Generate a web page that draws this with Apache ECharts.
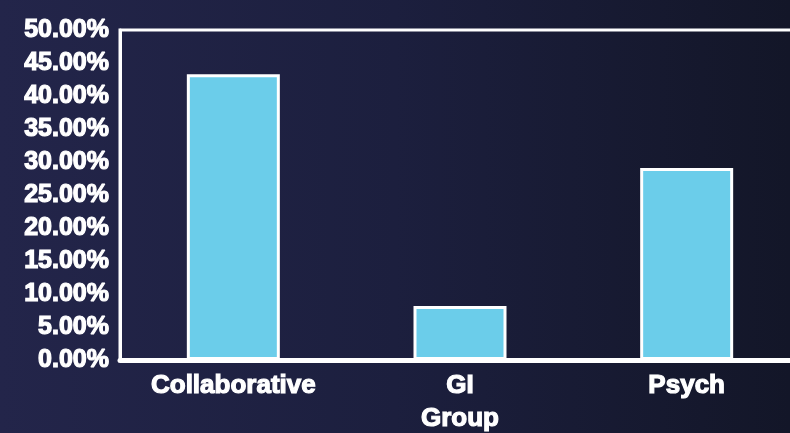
<!DOCTYPE html>
<html>
<head>
<meta charset="utf-8">
<script src="https://cdn.jsdelivr.net/npm/echarts@6/dist/echarts.min.js"></script>
<style>
  html, body { margin: 0; padding: 0; }
  body { background: linear-gradient(90deg, #23254a 0%, #1c1f3e 50%, #131628 100%); }
  #chart { width: 790px; height: 433px; }
</style>
</head>
<body>
<div id="chart"></div>
<script>
// Share of patients by care group
const categories = ['Collaborative', 'GI', 'Psych'];
const shares = [43.3, 8.2, 29.1];
const yMin = 0, yMax = 50, yStep = 5;
const axisName = 'Group';

const chart = echarts.init(document.getElementById('chart'), null, { renderer: 'canvas' });
const fontFam = '"Liberation Sans", Arial, sans-serif';
const heavyText = { color: '#ffffff', fontFamily: fontFam, fontWeight: 'bold', textBorderColor: '#ffffff', textBorderWidth: 1.2 };

chart.setOption({
  backgroundColor: 'transparent',
  animation: false,
  grid: {
    left: 120, top: 30, width: 680, height: 330,
    outerBoundsMode: 'none',
    containLabel: false,
    show: true, borderColor: '#ffffff', borderWidth: 3,
    backgroundColor: 'transparent'
  },
  xAxis: {
    type: 'category',
    data: categories,
    name: axisName,
    nameLocation: 'middle',
    nameGap: 46,
    nameTextStyle: Object.assign({ fontSize: 26 }, heavyText),
    axisLine: { lineStyle: { color: '#ffffff', width: 5 } },
    axisTick: { show: false },
    axisLabel: Object.assign({ fontSize: 26, margin: 13 }, heavyText)
  },
  yAxis: {
    type: 'value',
    min: yMin, max: yMax, interval: yStep,
    axisLine: { show: true, lineStyle: { color: '#ffffff', width: 3 } },
    axisTick: { show: false },
    splitLine: { show: false },
    axisLabel: Object.assign({
      fontSize: 25, margin: 11,
      formatter: v => v.toFixed(2) + '%'
    }, heavyText)
  },
  series: [{
    type: 'bar',
    data: shares,
    barWidth: 93,
    itemStyle: { color: '#6bcdea', borderColor: '#ffffff', borderWidth: 3 }
  }]
});
</script>
</body>
</html>
